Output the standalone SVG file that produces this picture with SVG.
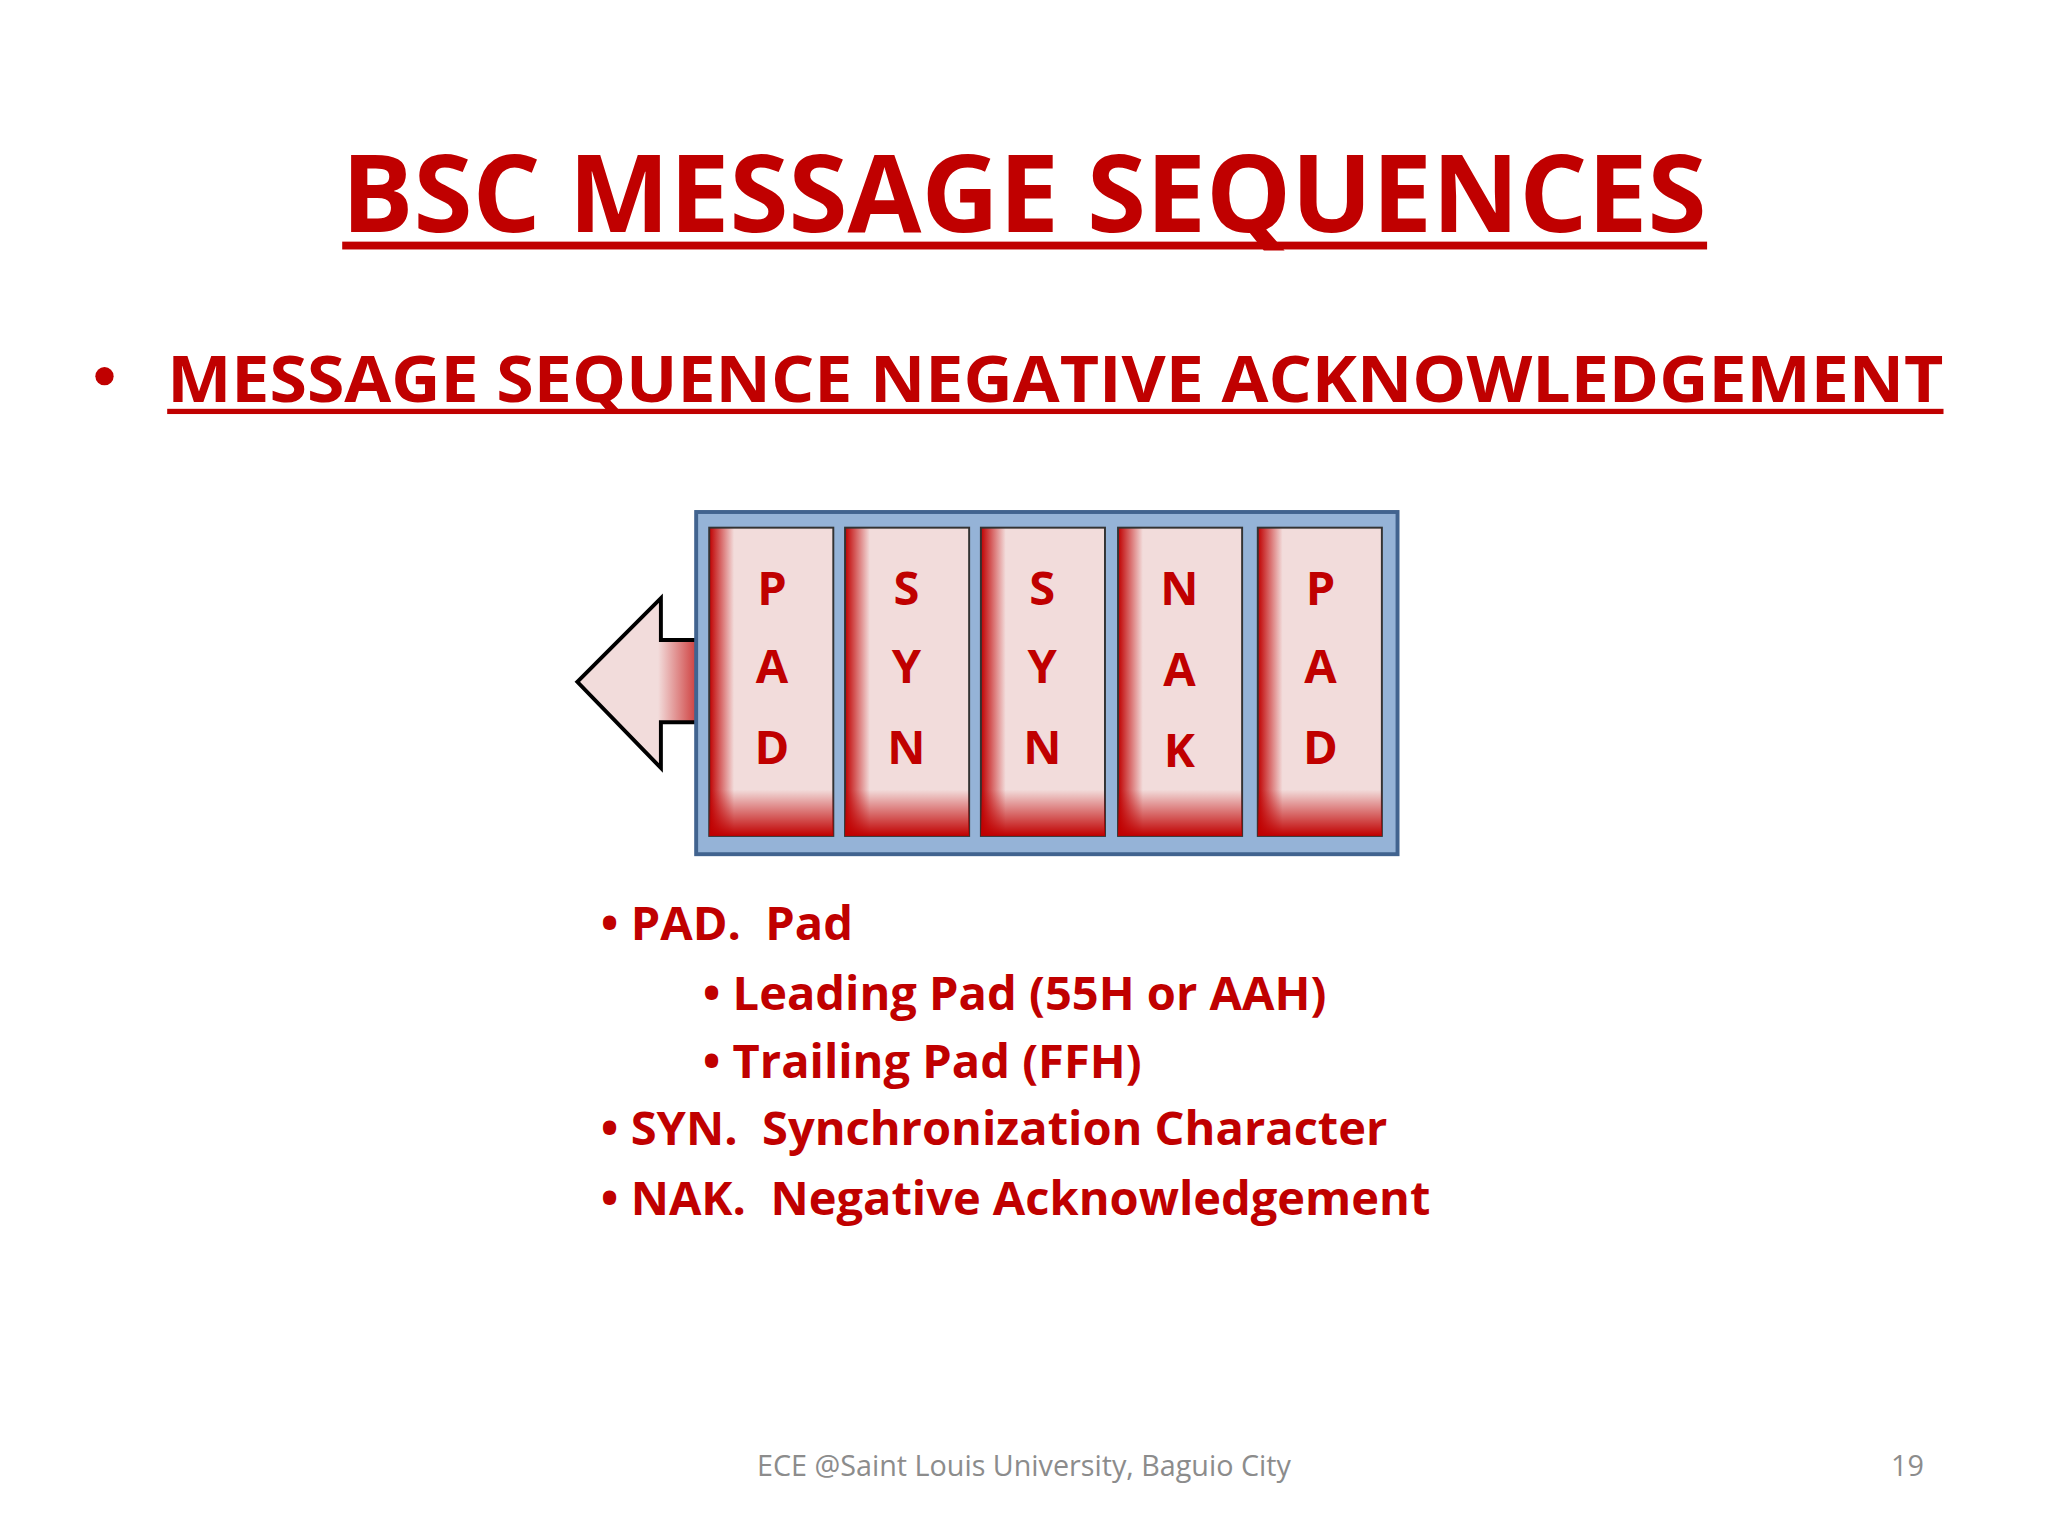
<svg xmlns="http://www.w3.org/2000/svg" width="2048" height="1536" viewBox="0 0 2048 1536">
<defs>
<style>
.r{fill:#C00000;font-family:"Open Sans","Liberation Sans",sans-serif;font-weight:bold}
.l{font-size:36px;text-anchor:middle}
.b{font-size:36px;white-space:pre}
.cell{fill:url(#gh);stroke:#333;stroke-width:1.5}
</style>
<linearGradient id="gh" x1="0" y1="0" x2="1" y2="0">
<stop offset="0" stop-color="#C00000"/><stop offset="0.2" stop-color="#F2DCDB"/><stop offset="1" stop-color="#F2DCDB"/>
</linearGradient>
<linearGradient id="gv" x1="0" y1="0" x2="0" y2="1">
<stop offset="0.85" stop-color="#C00000" stop-opacity="0"/><stop offset="1" stop-color="#C00000" stop-opacity="1"/>
</linearGradient>
<linearGradient id="ga" x1="0" y1="0" x2="1" y2="0">
<stop offset="0" stop-color="#F2DCDB"/><stop offset="0.6" stop-color="#F2DCDB"/><stop offset="1" stop-color="#C00000"/>
</linearGradient>
</defs>
<rect width="2048" height="1536" fill="#fff"/>
<g transform="scale(1.30612)">
<g id="title">
<text class="r" x="784" y="178" font-size="82" text-anchor="middle" textLength="1045" lengthAdjust="spacingAndGlyphs">BSC MESSAGE SEQUENCES</text>
<rect x="262" y="185" width="1045" height="6" fill="#C00000"/>
</g>
<g id="subtitle">
<circle cx="80" cy="288" r="7" fill="#C00000"/>
<text class="r" x="128" y="308" font-size="50" textLength="1360" lengthAdjust="spacingAndGlyphs">MESSAGE SEQUENCE NEGATIVE ACKNOWLEDGEMENT</text>
<rect x="128" y="313" width="1360" height="4" fill="#C00000"/>
</g>
<g id="arrow">
<polygon points="442,522 506,458 506,490 545,490 545,553 506,553 506,588" fill="url(#ga)" stroke="#000" stroke-width="3"/>
</g>
<g id="frame">
<rect x="533" y="392" width="537" height="262" fill="#95B3D7" stroke="#41638F" stroke-width="3"/>
</g>
<g id="cell1"><rect class="cell" x="543" y="404" width="95" height="236"/><rect x="543" y="404" width="95" height="236" fill="url(#gv)"/>
<text class="r l" x="591" y="463">P</text><text class="r l" x="591" y="523">A</text><text class="r l" x="591" y="585">D</text></g>
<g id="cell2"><rect class="cell" x="647" y="404" width="95" height="236"/><rect x="647" y="404" width="95" height="236" fill="url(#gv)"/>
<text class="r l" x="694" y="463">S</text><text class="r l" x="694" y="523">Y</text><text class="r l" x="694" y="585">N</text></g>
<g id="cell3"><rect class="cell" x="751" y="404" width="95" height="236"/><rect x="751" y="404" width="95" height="236" fill="url(#gv)"/>
<text class="r l" x="798" y="463">S</text><text class="r l" x="798" y="523">Y</text><text class="r l" x="798" y="585">N</text></g>
<g id="cell4"><rect class="cell" x="856" y="404" width="95" height="236"/><rect x="856" y="404" width="95" height="236" fill="url(#gv)"/>
<text class="r l" x="903" y="463">N</text><text class="r l" x="903" y="525">A</text><text class="r l" x="903" y="587">K</text></g>
<g id="cell5"><rect class="cell" x="963" y="404" width="95" height="236"/><rect x="963" y="404" width="95" height="236" fill="url(#gv)"/>
<text class="r l" x="1011" y="463">P</text><text class="r l" x="1011" y="523">A</text><text class="r l" x="1011" y="585">D</text></g>
<g id="bullets">
<text class="r b" x="460" y="720" xml:space="preserve">• PAD.  Pad</text>
<text class="r b" x="538" y="773">• Leading Pad (55H or AAH)</text>
<text class="r b" x="538" y="825">• Trailing Pad (FFH)</text>
<text class="r b" x="460" y="877" xml:space="preserve">• SYN.  Synchronization Character</text>
<text class="r b" x="460" y="930" xml:space="preserve">• NAK.  Negative Acknowledgement</text>
</g>
<g id="footer" font-family="'Open Sans','Liberation Sans',sans-serif" font-size="22" fill="#8C8C8C">
<text x="784" y="1130" text-anchor="middle">ECE @Saint Louis University, Baguio City</text>
<text x="1473" y="1130" text-anchor="end">19</text>
</g>
</g>
</svg>
